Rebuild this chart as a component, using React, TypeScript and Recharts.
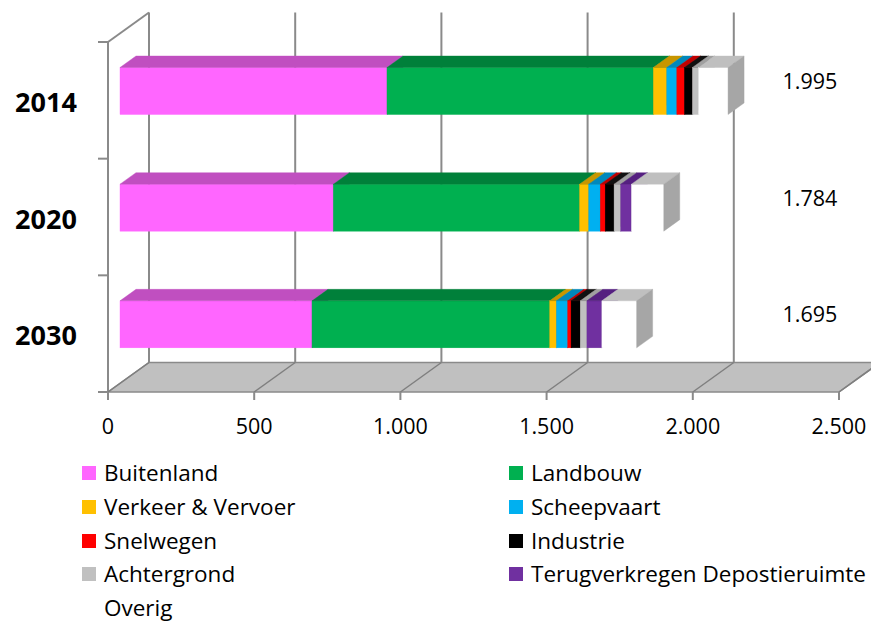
import React from "react";
import { Bar, BarChart, CartesianGrid, LabelList, ReferenceArea, XAxis, YAxis } from "recharts";

const YEARS = ["2014", "2020", "2030"];
const BUITENLAND = [876, 700, 630];
const LANDBOUW = [874, 808, 780];
const VERKEER = [44, 30, 22];
const SCHEEPVAART = [33, 38, 37];
const SNELWEGEN = [25, 16, 11];
const INDUSTRIE = [26, 29, 30];
const ACHTERGROND = [20, 22, 22];
const TERUGVERKREGEN = [0, 35, 49];
const OVERIG = [97, 106, 114];
const X_TICKS = [0, 500, 1000, 1500, 2000, 2500];

const SERIES = [
  { key: "buitenland", name: "Buitenland", values: BUITENLAND, front: "#FF66FF", top: "#C04FC0", side: "#D050D0" },
  { key: "landbouw", name: "Landbouw", values: LANDBOUW, front: "#00B050", top: "#00803A", side: "#008C40" },
  { key: "verkeer", name: "Verkeer & Vervoer", values: VERKEER, front: "#FFC000", top: "#C89600", side: "#D8A400" },
  { key: "scheepvaart", name: "Scheepvaart", values: SCHEEPVAART, front: "#00B0F0", top: "#0088BB", side: "#0094CC" },
  { key: "snelwegen", name: "Snelwegen", values: SNELWEGEN, front: "#FF0000", top: "#C00000", side: "#D00000" },
  { key: "industrie", name: "Industrie", values: INDUSTRIE, front: "#000000", top: "#111111", side: "#111111" },
  { key: "achtergrond", name: "Achtergrond", values: ACHTERGROND, front: "#C0C0C0", top: "#A0A0A0", side: "#A6A6A6" },
  { key: "terug", name: "Terugverkregen Depostieruimte", values: TERUGVERKREGEN, front: "#7030A0", top: "#552080", side: "#5C2688" },
  { key: "overig", name: "Overig", values: OVERIG, front: "#FFFFFF", top: "#BFBFBF", side: "#A6A6A6" },
];

const rows = YEARS.map((year, i) => {
  const row: Record<string, number | string> = { year };
  let total = 0;
  SERIES.forEach((s) => {
    row[s.key] = s.values[i];
    total += s.values[i];
  });
  row.total = total;
  return row;
});

// layout of the pseudo-3D box
const CHART_W = 900;
const CHART_H = 623;
const PLOT_LEFT = 120;
const PLOT_TOP = 32.5;
const PLOT_H = 350;
const PLOT_W = 762;
const Y_AXIS_W = 60;
const X_AXIS_H = 60;
const BAR_DX = 16;
const BAR_DY = 11.5;
const K = 0.9593; // axis planes are drawn slightly narrower than the bar plane
const FRONT_LEFT = 108;
const FRONT_SHIFT_Y = 9.5;
const WALL_DX = 41;
const WALL_DY = 29.5;
const FLOOR_Y = PLOT_TOP + PLOT_H + FRONT_SHIFT_Y;
const BACK_FLOOR_Y = FLOOR_Y - WALL_DY;
const BACK_TOP_Y = PLOT_TOP + FRONT_SHIFT_Y - WALL_DY;
const LABEL_X = 810;

const GRID = "#8a8a8a";
const FONT = "'Open Sans', Lato, sans-serif";

const toFrontX = (sx: number) => FRONT_LEFT + (sx - PLOT_LEFT) * K;

const fmt = (v: number) => String(Math.round(v)).replace(/\B(?=(\d{3})+(?!\d))/g, ".");

function Box3D(props: any) {
  const { x, y, width, height, front, top, side } = props;
  if (!(width > 0)) return null;
  const x2 = x + width;
  return (
    <g>
      <rect x={x} y={y} width={width} height={height} fill={front} stroke={front} strokeWidth={0.4} />
      <polygon
        points={`${x},${y} ${x2},${y} ${x2 + BAR_DX},${y - BAR_DY} ${x + BAR_DX},${y - BAR_DY}`}
        fill={top}
        stroke={top}
        strokeWidth={0.4}
      />
      <polygon
        points={`${x2},${y} ${x2 + BAR_DX},${y - BAR_DY} ${x2 + BAR_DX},${y + height - BAR_DY} ${x2},${y + height}`}
        fill={side}
        stroke={side}
        strokeWidth={0.4}
      />
    </g>
  );
}

// floor slab and the left wall outline
function Floor(props: any) {
  const { x, y, width, height } = props;
  const fl = toFrontX(x);
  const fr = toFrontX(x + width);
  const top = y + FRONT_SHIFT_Y;
  const bottom = y + height + FRONT_SHIFT_Y;
  const n = YEARS.length;
  return (
    <g>
      <polygon
        points={`${fl},${bottom} ${fr},${bottom} ${fr + WALL_DX},${bottom - WALL_DY} ${fl + WALL_DX},${bottom - WALL_DY}`}
        fill="#C0C0C0"
        stroke={GRID}
        strokeWidth={1.5}
      />
      <line x1={fl} y1={top} x2={fl} y2={bottom} stroke={GRID} strokeWidth={2} />
      <line x1={fl} y1={top} x2={fl + WALL_DX} y2={top - WALL_DY} stroke={GRID} strokeWidth={2} />
      {Array.from({ length: n + 1 }, (_, i) => {
        const ty = top + ((bottom - top) * i) / n;
        return <line key={i} x1={fl - 10} y1={ty} x2={fl} y2={ty} stroke={GRID} strokeWidth={2} />;
      })}
    </g>
  );
}

function BackWallLine(props: any) {
  const bx = toFrontX(props.x1) + WALL_DX;
  return <line key={`bw-${props.index}`} x1={bx} y1={BACK_TOP_Y} x2={bx} y2={BACK_FLOOR_Y} stroke={GRID} strokeWidth={2} />;
}

function FloorTick(props: any) {
  const { x, payload } = props;
  const fx = toFrontX(x);
  return (
    <g>
      <line x1={fx} y1={FLOOR_Y} x2={fx + WALL_DX} y2={BACK_FLOOR_Y} stroke="#7f7f7f" strokeWidth={1.5} />
      <line x1={fx} y1={FLOOR_Y} x2={fx} y2={FLOOR_Y + 8} stroke={GRID} strokeWidth={2} />
      <text x={fx} y={FLOOR_Y + 42} textAnchor="middle" fontFamily={FONT} fontSize={21.5} fill="#000">
        {fmt(payload.value)}
      </text>
    </g>
  );
}

function YearTick(props: any) {
  const { y, payload } = props;
  return (
    <text x={46} y={y + 21} textAnchor="middle" fontFamily={FONT} fontWeight="bold" fontSize={27} fill="#000">
      {payload.value}
    </text>
  );
}

function TotalLabel(props: any) {
  const { y, height, value } = props;
  return (
    <text x={LABEL_X} y={y + height / 2 - 2} textAnchor="middle" fontFamily={FONT} fontSize={21.5} fill="#000">
      {fmt(Number(value))}
    </text>
  );
}

function Legend() {
  return (
    <div style={{ position: "absolute", left: 0, top: 0, fontFamily: FONT, fontSize: 22.5, color: "#000" }}>
      {SERIES.map((s, i) => {
        const col = i % 2;
        const row = Math.floor(i / 2);
        const left = col === 0 ? 82 : 509;
        const top = 461 + row * 33.8;
        return (
          <div key={s.key} style={{ position: "absolute", left, top, height: 24, lineHeight: "24px", whiteSpace: "nowrap" }}>
            <span
              style={{
                position: "absolute",
                left: 0,
                top: 5,
                width: 14,
                height: 14,
                background: s.front,
              }}
            />
            <span style={{ position: "absolute", left: 22, top: 0 }}>{s.name}</span>
          </div>
        );
      })}
    </div>
  );
}

export default function App() {
  return (
    <div
      style={{
        position: "absolute",
        left: 0,
        top: 0,
        width: 871,
        height: 623,
        overflow: "hidden",
        background: "#fff",
      }}
    >
      <BarChart
        width={CHART_W}
        height={CHART_H}
        data={rows}
        layout="vertical"
        barSize={47}
        margin={{
          top: PLOT_TOP,
          right: CHART_W - PLOT_LEFT - PLOT_W,
          bottom: CHART_H - PLOT_TOP - PLOT_H - X_AXIS_H,
          left: PLOT_LEFT - Y_AXIS_W,
        }}
      >
        <CartesianGrid horizontal={false} vertical={(p: any) => <BackWallLine {...p} />} />
        <ReferenceArea x1={0} x2={2500} ifOverflow="visible" shape={(p: any) => <Floor {...p} />} />
        <XAxis
          type="number"
          domain={[0, 2500]}
          ticks={X_TICKS}
          interval={0}
          height={X_AXIS_H}
          axisLine={false}
          tickLine={false}
          tick={(p: any) => <FloorTick {...p} />}
        />
        <YAxis
          type="category"
          dataKey="year"
          width={Y_AXIS_W}
          axisLine={false}
          tickLine={false}
          tick={(p: any) => <YearTick {...p} />}
        />
        {SERIES.map((s, i) => (
          <Bar
            key={s.key}
            dataKey={s.key}
            name={s.name}
            stackId="a"
            fill={s.front}
            isAnimationActive={false}
            shape={(p: any) => <Box3D {...p} front={s.front} top={s.top} side={s.side} />}
          >
            {i === SERIES.length - 1 && <LabelList dataKey="total" content={(p: any) => <TotalLabel {...p} />} />}
          </Bar>
        ))}
      </BarChart>
      <Legend />
    </div>
  );
}
